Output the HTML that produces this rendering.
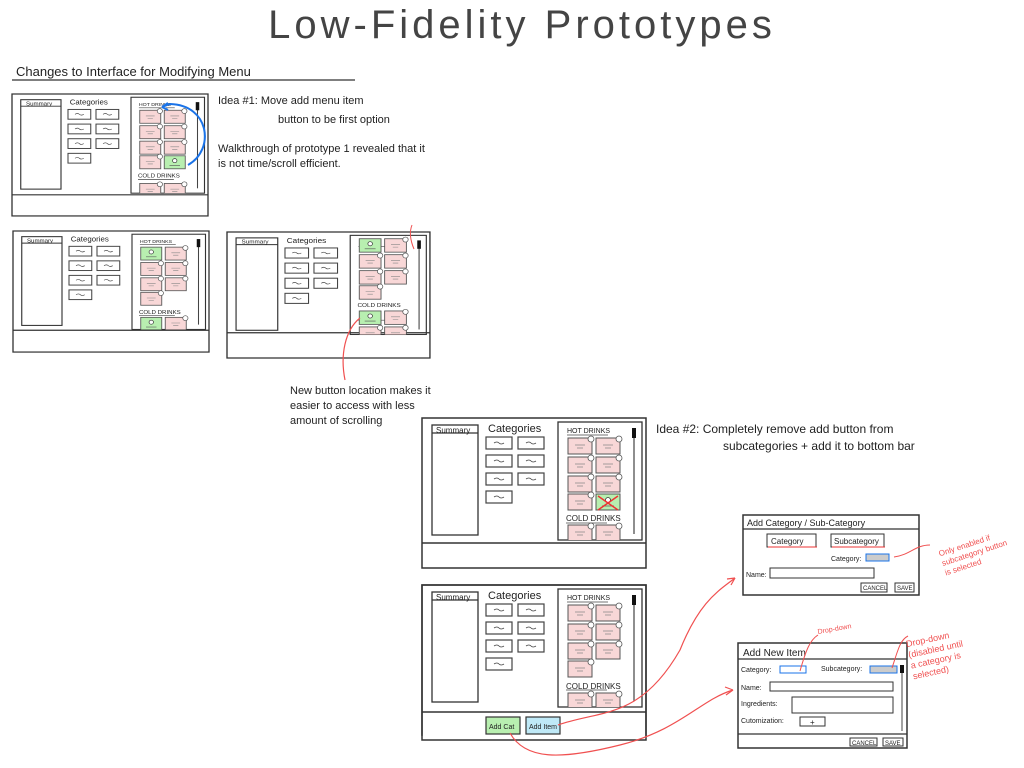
<!DOCTYPE html>
<html><head><meta charset="utf-8"><style>
html,body{margin:0;padding:0;background:#fff;}
svg{display:block;font-family:"Liberation Sans",sans-serif;}
.hw{font-family:"Liberation Sans",sans-serif;fill:#222;}
</style></head><body>
<svg width="1024" height="768" viewBox="0 0 1024 768" xmlns="http://www.w3.org/2000/svg">
<defs>
<g id="pk"><rect width="24" height="16" fill="#f8d7d7" stroke="#555" stroke-width="1"/><circle cx="23" cy="1" r="3" fill="#fff" stroke="#555" stroke-width="0.8"/><path d="M7 7 h10 M9 10 h6" stroke="#888" stroke-width="0.7"/></g>
<g id="gr"><rect width="24" height="16" fill="#b8efb0" stroke="#555" stroke-width="1"/><circle cx="12" cy="6" r="2.5" fill="#fff" stroke="#333" stroke-width="0.8"/><path d="M6 12 h12" stroke="#555" stroke-width="0.7"/></g>
<g id="btn"><rect width="26" height="12" fill="#fff" stroke="#444" stroke-width="1.2"/><path d="M8 6 q3 -2 5 0 t5 0" stroke="#444" stroke-width="0.8" fill="none"/></g>
<clipPath id="pc"><rect x="136" y="4" width="84" height="118"/></clipPath>
<g id="base">
<rect x="0" y="0" width="224" height="150" fill="#fff" stroke="#333" stroke-width="1.5"/>
<rect x="10" y="7" width="46" height="110" fill="#fff" stroke="#333" stroke-width="1.3"/>
<line x1="10" y1="15" x2="56" y2="15" stroke="#333" stroke-width="1.2"/>
<use href="#btn" x="64" y="19"/><use href="#btn" x="96" y="19"/>
<use href="#btn" x="64" y="37"/><use href="#btn" x="96" y="37"/>
<use href="#btn" x="64" y="55"/><use href="#btn" x="96" y="55"/>
<use href="#btn" x="64" y="73"/>
<rect x="136" y="4" width="84" height="118" fill="#fff" stroke="#333" stroke-width="1.3"/>
<line x1="212" y1="12" x2="212" y2="116" stroke="#444" stroke-width="1.2"/>
<rect x="210" y="10" width="4" height="10" fill="#111"/>
<line x1="145" y1="17" x2="186" y2="17" stroke="#444" stroke-width="0.8"/>
<line x1="144" y1="105" x2="185" y2="105" stroke="#444" stroke-width="0.8"/>
</g>
</defs>

<text x="522" y="38" text-anchor="middle" font-size="40" fill="#444" letter-spacing="4">Low-Fidelity Prototypes</text>
<text x="16" y="76" font-size="13" class="hw">Changes to Interface for Modifying Menu</text>
<line x1="12" y1="80" x2="355" y2="80" stroke="#333" stroke-width="1.2"/>

<!-- F1 -->
<g transform="translate(12,94) scale(0.875,0.813)">
<use href="#base"/>
<line x1="0" y1="124" x2="224" y2="124" stroke="#333" stroke-width="1.5"/>
<g clip-path="url(#pc)">
<use href="#pk" x="146" y="20"/><use href="#pk" x="174" y="20"/>
<use href="#pk" x="146" y="39"/><use href="#pk" x="174" y="39"/>
<use href="#pk" x="146" y="58"/><use href="#pk" x="174" y="58"/>
<use href="#pk" x="146" y="76"/><use href="#gr" x="174" y="76"/>
<use href="#pk" x="146" y="110"/><use href="#pk" x="174" y="110"/>
</g>
<text x="16" y="14" font-size="7" class="hw">Summary</text>
<text x="66" y="13" font-size="9" class="hw">Categories</text>
<text x="145" y="15" font-size="6" class="hw">HOT DRINKS</text>
<text x="144" y="103" font-size="7" class="hw">COLD DRINKS</text>
</g>
<path d="M188 165 C215 150 210 105 170 104 L162 107" stroke="#1a73e8" stroke-width="2" fill="none"/>
<path d="M162 107 l6 -4 M162 107 l6 3" stroke="#1a73e8" stroke-width="2"/>

<!-- F2 -->
<g transform="translate(13,231) scale(0.875,0.807)">
<use href="#base"/>
<line x1="0" y1="123" x2="224" y2="123" stroke="#333" stroke-width="1.5"/>
<g clip-path="url(#pc)">
<use href="#gr" x="146" y="20"/><use href="#pk" x="174" y="20"/>
<use href="#pk" x="146" y="39"/><use href="#pk" x="174" y="39"/>
<use href="#pk" x="146" y="58"/><use href="#pk" x="174" y="58"/>
<use href="#pk" x="146" y="76"/>
<use href="#gr" x="146" y="107"/><use href="#pk" x="174" y="107"/>
</g>
<text x="16" y="14" font-size="7" class="hw">Summary</text>
<text x="66" y="13" font-size="9" class="hw">Categories</text>
<text x="145" y="15" font-size="6" class="hw">HOT DRINKS</text>
<text x="144" y="103" font-size="7" class="hw">COLD DRINKS</text>
</g>

<!-- F3 -->
<g transform="translate(227,232) scale(0.906,0.84)">
<use href="#base"/>
<line x1="0" y1="120" x2="224" y2="120" stroke="#333" stroke-width="1.5"/>
<g clip-path="url(#pc)">
<use href="#gr" x="146" y="8"/><use href="#pk" x="174" y="8"/>
<use href="#pk" x="146" y="27"/><use href="#pk" x="174" y="27"/>
<use href="#pk" x="146" y="46"/><use href="#pk" x="174" y="46"/>
<use href="#pk" x="146" y="64"/>
<use href="#gr" x="146" y="94"/><use href="#pk" x="174" y="94"/>
<use href="#pk" x="146" y="113"/><use href="#pk" x="174" y="113"/>
</g>
<text x="16" y="14" font-size="7" class="hw">Summary</text>
<text x="66" y="13" font-size="9" class="hw">Categories</text>
<text x="144" y="89" font-size="7" class="hw">COLD DRINKS</text>
</g>
<path d="M360 318 C345 330 340 355 345 380" stroke="#f05050" stroke-width="1.2" fill="none"/>
<path d="M412 225 q-4 10 2 24" stroke="#f05050" stroke-width="1" fill="none"/>

<!-- F4 -->
<g transform="translate(422,418)">
<use href="#base"/>
<line x1="0" y1="125" x2="224" y2="125" stroke="#333" stroke-width="1.5"/>
<g clip-path="url(#pc)">
<use href="#pk" x="146" y="20"/><use href="#pk" x="174" y="20"/>
<use href="#pk" x="146" y="39"/><use href="#pk" x="174" y="39"/>
<use href="#pk" x="146" y="58"/><use href="#pk" x="174" y="58"/>
<use href="#pk" x="146" y="76"/><use href="#gr" x="174" y="76"/>
<use href="#pk" x="146" y="107"/><use href="#pk" x="174" y="107"/>
</g>
<path d="M176 78 l20 14 M196 78 l-20 14" stroke="#e33" stroke-width="1.5"/>
<text x="14" y="15" font-size="8" class="hw">Summary</text>
<text x="66" y="14" font-size="11" class="hw">Categories</text>
<text x="145" y="15" font-size="7" class="hw">HOT DRINKS</text>
<text x="144" y="103" font-size="8" class="hw">COLD DRINKS</text>
</g>

<!-- F5 -->
<g transform="translate(422,585)">
<use href="#base"/>
<line x1="0.75" y1="150" x2="223.25" y2="150" stroke="#fff" stroke-width="2"/>
<line x1="0" y1="127" x2="224" y2="127" stroke="#333" stroke-width="1.5"/>
<rect x="0" y="0" width="224" height="155" fill="none" stroke="#333" stroke-width="1.5"/>
<g clip-path="url(#pc)">
<use href="#pk" x="146" y="20"/><use href="#pk" x="174" y="20"/>
<use href="#pk" x="146" y="39"/><use href="#pk" x="174" y="39"/>
<use href="#pk" x="146" y="58"/><use href="#pk" x="174" y="58"/>
<use href="#pk" x="146" y="76"/>
<use href="#pk" x="146" y="108"/><use href="#pk" x="174" y="108"/>
</g>
<text x="14" y="15" font-size="8" class="hw">Summary</text>
<text x="66" y="14" font-size="11" class="hw">Categories</text>
<text x="145" y="15" font-size="7" class="hw">HOT DRINKS</text>
<text x="144" y="104" font-size="8" class="hw">COLD DRINKS</text>
<rect x="64" y="132" width="34" height="17" fill="#b8efb0" stroke="#333" stroke-width="1.2"/>
<text x="67" y="144" font-size="7" class="hw">Add Cat</text>
<rect x="104" y="132" width="34" height="17" fill="#bfe9f7" stroke="#333" stroke-width="1.2"/>
<text x="107" y="144" font-size="7" class="hw">Add Item</text>
</g>

<!-- Dialog 1 -->
<rect x="743" y="515" width="176" height="80" fill="#fff" stroke="#333" stroke-width="1.5"/>
<line x1="743" y1="529" x2="919" y2="529" stroke="#333" stroke-width="1.2"/>
<text x="747" y="526" font-size="9" class="hw">Add Category / Sub-Category</text>
<rect x="767" y="534" width="49" height="13" fill="#fff" stroke="#333" stroke-width="1" />
<line x1="768" y1="547" x2="817" y2="547" stroke="#e33"/>
<text x="771" y="544" font-size="8" class="hw">Category</text>
<rect x="831" y="534" width="53" height="13" fill="#fff" stroke="#333" stroke-width="1"/>
<line x1="832" y1="547" x2="885" y2="547" stroke="#e33"/>
<text x="834" y="544" font-size="8" class="hw">Subcategory</text>
<text x="831" y="561" font-size="7" class="hw">Category:</text>
<rect x="866" y="554" width="23" height="7" fill="#ccc" stroke="#1a73e8"/>
<text x="746" y="577" font-size="7" class="hw">Name:</text>
<rect x="770" y="568" width="104" height="10" fill="#fff" stroke="#333"/>
<rect x="861" y="583" width="26" height="9" fill="#fff" stroke="#333"/>
<text x="863" y="590" font-size="6" class="hw">CANCEL</text>
<rect x="895" y="583" width="19" height="9" fill="#fff" stroke="#333"/>
<text x="897" y="590" font-size="6" class="hw">SAVE</text>
<path d="M894 557 C910 555 915 545 930 545" stroke="#f05050" fill="none"/>
<g transform="rotate(-18 975 545)"><text x="938" y="545" font-size="8" fill="#f05050">Only enabled if</text><text x="938" y="555" font-size="8" fill="#f05050">subcategory button</text><text x="938" y="565" font-size="8" fill="#f05050">is selected</text></g>

<!-- Dialog 2 -->
<rect x="738" y="643" width="169" height="105" fill="#fff" stroke="#333" stroke-width="1.5"/>
<line x1="738" y1="659" x2="907" y2="659" stroke="#333" stroke-width="1.2"/>
<line x1="738" y1="734" x2="907" y2="734" stroke="#333" stroke-width="1.2"/>
<text x="743" y="656" font-size="10" class="hw">Add New Item</text>
<text x="741" y="672" font-size="7" class="hw">Category:</text>
<rect x="780" y="666" width="26" height="7" fill="#fff" stroke="#1a73e8"/>
<text x="821" y="671" font-size="7" class="hw">Subcategory:</text>
<rect x="870" y="666" width="27" height="7" fill="#ccc" stroke="#1a73e8"/>
<line x1="902" y1="666" x2="902" y2="731" stroke="#444"/>
<rect x="900" y="665" width="4" height="8" fill="#111"/>
<text x="741" y="690" font-size="7" class="hw">Name:</text>
<rect x="770" y="682" width="123" height="9" fill="#fff" stroke="#333"/>
<text x="741" y="706" font-size="7" class="hw">Ingredients:</text>
<rect x="792" y="697" width="101" height="16" fill="#fff" stroke="#333"/>
<text x="741" y="723" font-size="7" class="hw">Cutomization:</text>
<rect x="800" y="717" width="25" height="9" fill="#fff" stroke="#333"/>
<text x="810" y="725" font-size="8" class="hw">+</text>
<rect x="850" y="738" width="27" height="8" fill="#fff" stroke="#333"/>
<text x="852" y="745" font-size="6" class="hw">CANCEL</text>
<rect x="883" y="738" width="20" height="8" fill="#fff" stroke="#333"/>
<text x="885" y="745" font-size="6" class="hw">SAVE</text>
<path d="M800 671 C806 650 810 640 818 635" stroke="#f05050" fill="none"/>
<text x="818" y="634" font-size="7" fill="#f05050" transform="rotate(-10 818 634)">Drop-down</text>
<path d="M892 668 C898 650 900 640 908 636" stroke="#f05050" fill="none"/>
<g transform="rotate(-12 940 640)"><text x="906" y="640" font-size="9" fill="#f05050">Drop-down</text><text x="906" y="651" font-size="9" fill="#f05050">(disabled until</text><text x="906" y="662" font-size="9" fill="#f05050">a category is</text><text x="906" y="673" font-size="9" fill="#f05050">selected)</text></g>

<!-- red connectors -->
<path d="M558 725 C600 710 640 720 680 650 C700 600 720 590 735 578" stroke="#f05050" stroke-width="1.2" fill="none"/>
<path d="M735 578 l-8 1 M735 578 l-4 7" stroke="#f05050" stroke-width="1.2"/>
<path d="M510 733 C525 760 560 760 620 745 C680 730 700 700 733 690" stroke="#f05050" stroke-width="1.2" fill="none"/>
<path d="M733 690 l-8 -3 M733 690 l-7 5" stroke="#f05050" stroke-width="1.2"/>

<!-- notes -->
<text x="218" y="104" font-size="11" class="hw">Idea #1: Move add menu item</text>
<text x="278" y="123" font-size="11" class="hw">button to be first option</text>
<text x="218" y="152" font-size="11" class="hw">Walkthrough of prototype 1 revealed that it</text>
<text x="218" y="167" font-size="11" class="hw">is not time/scroll efficient.</text>
<text x="290" y="394" font-size="11" class="hw">New button location makes it</text>
<text x="290" y="409" font-size="11" class="hw">easier to access with less</text>
<text x="290" y="424" font-size="11" class="hw">amount of scrolling</text>
<text x="656" y="433" font-size="12" class="hw">Idea #2: Completely remove add button from</text>
<text x="723" y="450" font-size="12" class="hw">subcategories + add it to bottom bar</text>
</svg>
</body></html>
